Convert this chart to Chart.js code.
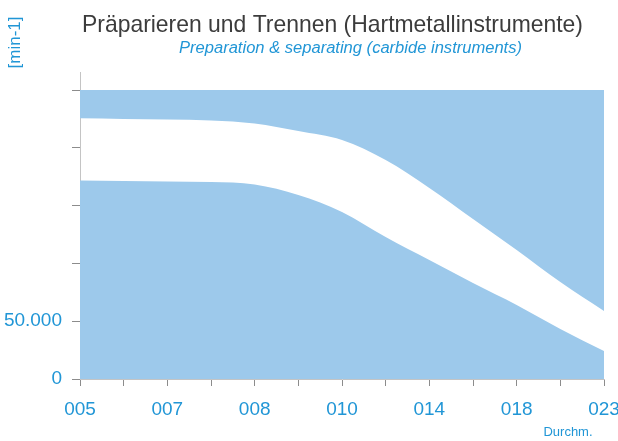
<!DOCTYPE html>
<html>
<head>
<meta charset="utf-8">
<title>Drehzahlen Hartmetallinstrumente</title>
<script src="https://cdn.jsdelivr.net/npm/chart.js@4/dist/chart.umd.min.js"></script>
<style>
    body { margin: 0; background: #fff; }
    #wrap { width: 618px; height: 441px; }
</style>
</head>
<body>
<div id="wrap"><canvas id="drehzahlChart" width="618" height="441"></canvas></div>
<script>
// Tickraster der x-Achse (jeder zweite Strich beschriftet)
const positionen = [0, 1, 2, 3, 4, 5, 6, 7, 8, 9, 10, 11, 12];
const durchmesser = ["005", "007", "008", "010", "014", "018", "023"];

// Drehzahlbereich [min-1] je Position: obere und untere Grenze
const drehzahlMax = [225500, 224900, 224500, 223600, 221000, 214500, 206700, 189400, 165200, 138400, 111600, 83900, 58800];
const drehzahlMin = [171700, 171300, 170800, 170400, 168300, 159200, 144500, 122800, 102900, 83000, 64000, 43300, 24200];

// y-Achse
const yTicks = [0, 50000, 100000, 150000, 200000, 250000];
const yLabels = ["0", "50.000", "", "", "", ""];

const blau = "#2196d6";
const flaeche = "#9dc9eb";

// Text auf eine feste Breite ziehen/stauchen
function fitText(ctx, text, x, y, breite) {
    const w = ctx.measureText(text).width;
    ctx.save();
    ctx.translate(x, y);
    ctx.scale(breite / w, 1);
    ctx.fillText(text, 0, 0);
    ctx.restore();
}

// Titel, Einheiten und Achsenverlängerung
const beschriftung = {
    id: "beschriftung",
    afterDraw(chart) {
        const ctx = chart.ctx;
        const area = chart.chartArea;
        ctx.save();

        // y-Achse nach oben verlängert
        ctx.strokeStyle = "#c4c4c4";
        ctx.lineWidth = 1;
        ctx.beginPath();
        ctx.moveTo(area.left + 0.5, area.top);
        ctx.lineTo(area.left + 0.5, 72);
        ctx.stroke();

        ctx.textAlign = "left";
        ctx.textBaseline = "alphabetic";

        ctx.fillStyle = "#3c3c3c";
        ctx.strokeStyle = "#3c3c3c";
        ctx.lineWidth = 0.5;
        ctx.font = '24px "Liberation Sans"';
        fitText(ctx, "Präparieren und Trennen (Hartmetallinstrumente)", 82, 32, 501);

        ctx.fillStyle = blau;
        ctx.font = 'italic 16px "Liberation Sans"';
        fitText(ctx, "Preparation & separating (carbide instruments)", 179, 52.5, 343);

        // Einheit der y-Achse
        ctx.save();
        ctx.translate(15.5, 42.5);
        ctx.rotate(-Math.PI / 2);
        ctx.textAlign = "center";
        ctx.textBaseline = "middle";
        ctx.font = '17px "Liberation Sans"';
        ctx.fillText("[min-1]", 0, 0);
        ctx.restore();

        // Einheit der x-Achse
        ctx.textAlign = "center";
        ctx.textBaseline = "middle";
        ctx.font = '13px "Liberation Sans"';
        ctx.fillText("Durchm.", 568, 432);

        ctx.restore();
    },
};

const tickFont = { family: '"Liberation Sans"', size: 19 };

new Chart(document.getElementById("drehzahlChart"), {
    type: "line",
    data: {
        datasets: [
            {
                label: "max",
                data: positionen.map((x, i) => ({ x: x, y: drehzahlMax[i] })),
                fill: "end",
                backgroundColor: flaeche,
                borderWidth: 0,
                pointRadius: 0,
                cubicInterpolationMode: "monotone",
            },
            {
                label: "min",
                data: positionen.map((x, i) => ({ x: x, y: drehzahlMin[i] })),
                fill: "origin",
                backgroundColor: flaeche,
                borderWidth: 0,
                pointRadius: 0,
                cubicInterpolationMode: "monotone",
            },
        ],
    },
    options: {
        responsive: false,
        animation: false,
        layout: {
            padding: { top: 90, right: 14, left: 0, bottom: 0 },
        },
        plugins: {
            legend: { display: false },
            tooltip: { enabled: false },
        },
        scales: {
            x: {
                type: "linear",
                min: 0,
                max: 12,
                afterBuildTicks: (s) => {
                    s.ticks = positionen.map((v) => ({ value: v }));
                },
                afterFit: (s) => {
                    s.height = 62;
                    s.paddingLeft = 0;
                    s.paddingRight = 0;
                },
                ticks: {
                    autoSkip: false,
                    maxRotation: 0,
                    color: blau,
                    font: tickFont,
                    padding: 12,
                    callback: (v) => (v % 2 === 0 ? durchmesser[v / 2] : ""),
                },
                grid: {
                    drawOnChartArea: false,
                    tickLength: 7,
                    color: "#8c8c8c",
                },
                border: { color: "#c4c4c4" },
            },
            y: {
                min: 0,
                max: 250000,
                afterBuildTicks: (s) => {
                    s.ticks = yTicks.map((v) => ({ value: v }));
                },
                afterFit: (s) => {
                    s.width = 80;
                },
                ticks: {
                    color: blau,
                    font: tickFont,
                    padding: 10,
                    callback: (v, i) => yLabels[i],
                },
                grid: {
                    drawOnChartArea: false,
                    tickLength: 8,
                    color: "#8c8c8c",
                },
                border: { color: "#c4c4c4" },
            },
        },
    },
    plugins: [beschriftung],
});
</script>
</body>
</html>
